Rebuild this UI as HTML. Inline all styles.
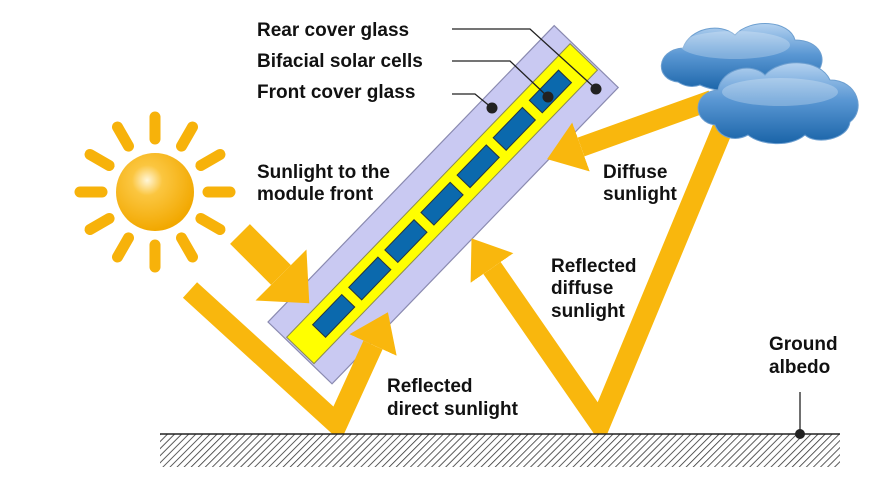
<!DOCTYPE html>
<html><head><meta charset="utf-8"><style>
html,body{margin:0;padding:0;background:#fff}
svg{display:block}
text{font-family:"Liberation Sans",Arial,sans-serif;font-weight:bold;font-size:19px;fill:#111}
</style></head><body>
<svg width="880" height="488" viewBox="0 0 880 488" xmlns="http://www.w3.org/2000/svg">
<defs>
<pattern id="hatch" width="5" height="5" patternUnits="userSpaceOnUse" patternTransform="rotate(45)">
<rect width="5" height="5" fill="#fff"/><line x1="0" y1="0" x2="0" y2="5" stroke="#333" stroke-width="1.6"/>
</pattern>
<radialGradient id="sun" cx="0.4" cy="0.35" r="0.65">
<stop offset="0" stop-color="#fff6d8"/><stop offset="0.3" stop-color="#fbc640"/><stop offset="1" stop-color="#f2a800"/>
</radialGradient>
<linearGradient id="cl" x1="0" y1="0" x2="0" y2="1">
<stop offset="0" stop-color="#b4d2f0"/><stop offset="0.45" stop-color="#5b98d4"/><stop offset="1" stop-color="#1a64a8"/>
</linearGradient>
<marker id="h1" markerUnits="userSpaceOnUse" viewBox="0 -26 36 52" refX="0" refY="0" markerWidth="36" markerHeight="52" orient="auto"><path d="M0,-26 L36,0 L0,26Z" fill="#f9b70d"/></marker>
<marker id="h2" markerUnits="userSpaceOnUse" viewBox="0 -36 40 72" refX="0" refY="0" markerWidth="40" markerHeight="72" orient="auto"><path d="M0,-36 L40,0 L0,36Z" fill="#f9b70d"/></marker>
</defs>

<g stroke="#f7b20a" stroke-width="11" stroke-linecap="round">
<line x1="155" y1="139" x2="155" y2="117" transform="rotate(0 155 192)"/>
<line x1="155" y1="139" x2="155" y2="117" transform="rotate(30 155 192)"/>
<line x1="155" y1="139" x2="155" y2="117" transform="rotate(60 155 192)"/>
<line x1="155" y1="139" x2="155" y2="117" transform="rotate(90 155 192)"/>
<line x1="155" y1="139" x2="155" y2="117" transform="rotate(120 155 192)"/>
<line x1="155" y1="139" x2="155" y2="117" transform="rotate(150 155 192)"/>
<line x1="155" y1="139" x2="155" y2="117" transform="rotate(180 155 192)"/>
<line x1="155" y1="139" x2="155" y2="117" transform="rotate(210 155 192)"/>
<line x1="155" y1="139" x2="155" y2="117" transform="rotate(240 155 192)"/>
<line x1="155" y1="139" x2="155" y2="117" transform="rotate(270 155 192)"/>
<line x1="155" y1="139" x2="155" y2="117" transform="rotate(300 155 192)"/>
<line x1="155" y1="139" x2="155" y2="117" transform="rotate(330 155 192)"/>
</g>
<circle cx="155" cy="192" r="39" fill="url(#sun)"/>

<g transform="translate(268,322) rotate(-46)">
<rect x="0" y="0" width="412" height="89" fill="#c9c9f2" stroke="#8a8ab0" stroke-width="1.2"/>
<rect x="2" y="24" width="408" height="38" fill="#ffff00" stroke="#8a8a50" stroke-width="1"/>
<g fill="#0b69ad" stroke="#234" stroke-width="1">
<rect x="29" y="34" width="42" height="18"/>
<rect x="81" y="34" width="42" height="18"/>
<rect x="133" y="34" width="42" height="18"/>
<rect x="185" y="34" width="42" height="18"/>
<rect x="237" y="34" width="42" height="18"/>
<rect x="289" y="34" width="42" height="18"/>
<rect x="341" y="34" width="42" height="18"/>
</g>
</g>

<g fill="none" stroke="#f9b70d" stroke-linejoin="miter" stroke-miterlimit="10">
<line x1="240" y1="234" x2="281" y2="275" stroke-width="28" marker-end="url(#h2)"/>
<polyline points="190,290 337,424 373,345" stroke-width="21" marker-end="url(#h1)"/>
<polyline points="727,118 600,424 492,268" stroke-width="21" marker-end="url(#h1)"/>
<line x1="712" y1="100" x2="581" y2="147" stroke-width="20" marker-end="url(#h1)"/>
</g>

<g fill="url(#cl)" stroke="#6d9fd0" stroke-width="1">
<path d="M678,82 C655,80 655,50 683,48 C690,28 720,22 735,35 C750,18 790,20 795,40 C820,40 830,60 815,75 C810,92 780,92 770,85 C750,95 715,92 700,85 C692,88 684,86 678,82Z"/>
<path d="M715,125 C692,122 692,92 718,90 C722,68 752,62 765,75 C780,58 820,58 830,80 C858,80 866,110 850,122 C848,140 815,145 805,135 C790,148 760,145 748,135 C735,142 720,138 715,125Z"/>
</g>
<ellipse cx="735" cy="45" rx="55" ry="14" fill="#fff" opacity="0.25"/>
<ellipse cx="780" cy="92" rx="58" ry="14" fill="#fff" opacity="0.25"/>

<rect x="160" y="434" width="680" height="33" fill="url(#hatch)"/>
<line x1="160" y1="434" x2="840" y2="434" stroke="#222" stroke-width="1.5"/>
<line x1="800" y1="392" x2="800" y2="434" stroke="#222" stroke-width="1.3"/>
<circle cx="800" cy="434" r="5" fill="#222"/>

<g fill="none" stroke="#222" stroke-width="1.3">
<polyline points="452,29 530,29 596,89"/>
<polyline points="452,61 510,61 548,97"/>
<polyline points="452,94 475,94 492,108"/>
</g>
<g fill="#222"><circle cx="596" cy="89" r="5.5"/><circle cx="548" cy="97" r="5.5"/><circle cx="492" cy="108" r="5.5"/></g>

<text x="257" y="36">Rear cover glass</text>
<text x="257" y="67">Bifacial solar cells</text>
<text x="257" y="98">Front cover glass</text>
<text x="257" y="178">Sunlight to the</text>
<text x="257" y="200">module front</text>
<text x="603" y="178">Diffuse</text>
<text x="603" y="200">sunlight</text>
<text x="551" y="272">Reflected</text>
<text x="551" y="294">diffuse</text>
<text x="551" y="317">sunlight</text>
<text x="387" y="392">Reflected</text>
<text x="387" y="415">direct sunlight</text>
<text x="769" y="350">Ground</text>
<text x="769" y="373">albedo</text>
</svg>
</body></html>
